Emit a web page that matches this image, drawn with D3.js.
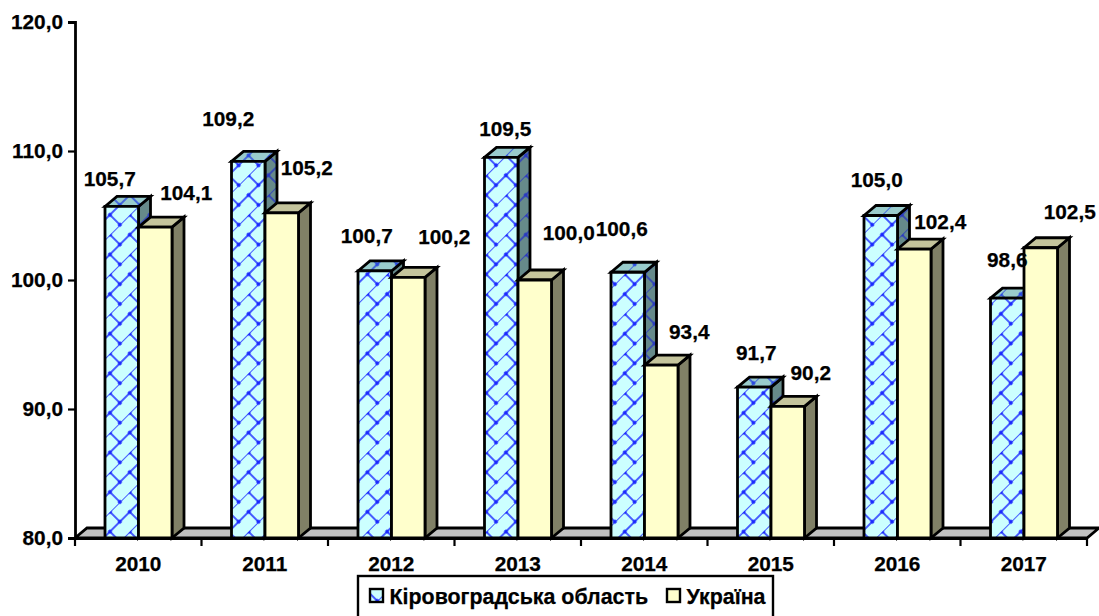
<!DOCTYPE html>
<html><head><meta charset="utf-8">
<script src="https://cdn.jsdelivr.net/npm/d3@7/dist/d3.min.js"></script>
<style>
html,body{margin:0;padding:0;background:#fff;overflow:hidden}
text{font-family:"Liberation Sans",Arial,sans-serif;font-weight:bold;fill:#000;stroke:#000;stroke-width:.25px}
</style></head><body>
<svg id="c" width="1099" height="616"></svg>
<script>
const years=["2010","2011","2012","2013","2014","2015","2016","2017"];
const seriesNames=["Кіровоградська область","Україна"];
const kirovohrad=[105.7,109.2,100.7,109.5,100.6,91.7,105.0,98.6];
const ukraine=[104.1,105.2,100.2,100.0,93.4,90.2,102.4,102.5];
const yTicks=[80,90,100,110,120];
// hand-placed data label offsets from each bar's top centre, as in the reference
const kirovohradLabelOffset=[[-12,-20],[-20,-35],[-8,-28],[4,-21],[-6,-36],[2,-27],[-4,-29],[0,-31]];
const ukraineLabelOffset=[[31,-27],[25,-38],[36,-33],[34,-40],[28,-26],[23,-26],[26,-20],[29,-29]];

const svg=d3.select("#c");
const fmt=v=>v.toFixed(1).replace(".",",");
const FS=20.8;
const pLeft=75,pRight=1087,pTop=22,pBottom=538,dx=12,dy=10;
const x0=d3.scaleBand().domain(years).range([pLeft,pRight]);
const x1=d3.scaleBand().domain([0,1]).range([30,97]);
const y=d3.scaleLinear().domain([80,120]).range([pBottom,pTop]);

const defs=svg.append("defs");
function hatch(id,bg,line){
  const p=defs.append("pattern").attr("id",id).attr("patternUnits","userSpaceOnUse")
    .attr("width",28).attr("height",28).attr("patternTransform","translate(105,200) rotate(-45)");
  p.append("rect").attr("width",28).attr("height",28).attr("fill",bg);
  p.append("path").attr("d","M0,0H28M0,14H28M7,0V14M21,14V28").attr("stroke",line).attr("stroke-width",1.5).attr("fill","none");
  [[7,0],[7,14],[21,14],[21,28],[21,0]].forEach(c=>p.append("circle").attr("cx",c[0]).attr("cy",c[1]).attr("r",2).attr("fill",line));
}
hatch("hF","#ccffff","#1a28ff");
hatch("hT","#99cccc","#2a4ae0");
hatch("hS","#668a8a","#2a3ac0");

const K="#000",SW=2.8;
const box=(g,pts,fill)=>g.append("polygon").attr("points",pts.map(p=>p.join(",")).join(" "))
  .attr("fill",fill).attr("stroke",K).attr("stroke-width",SW).attr("stroke-linejoin","miter");

// floor
box(svg,[[pLeft,pBottom],[pRight,pBottom],[pRight+dx,pBottom-dy],[pLeft+dx,pBottom-dy]],"#c0c0c0");

// bars
const styles=[{f:"url(#hF)",t:"url(#hT)",s:"url(#hS)"},{f:"#ffffcc",t:"#c4c49c",s:"#808066"}];
const series=[kirovohrad,ukraine];
const bars=svg.append("g");
years.forEach((yr,i)=>{
  [0,1].forEach(k=>{
    const g=bars.append("g");
    const a=x0(yr)+x1(k),b=a+x1.bandwidth(),t=y(series[k][i]);
    box(g,[[b,pBottom],[b+dx,pBottom-dy],[b+dx,t-dy],[b,t]],styles[k].s);
    box(g,[[a,t],[a+dx,t-dy],[b+dx,t-dy],[b,t]],styles[k].t);
    box(g,[[a,t],[b,t],[b,pBottom],[a,pBottom]],styles[k].f);
  });
});

// axes
const yAxis=svg.append("g").attr("transform",`translate(${pLeft},0)`)
  .call(d3.axisLeft(y).tickValues(yTicks).tickFormat(fmt).tickSize(7).tickPadding(5));
const xAxis=svg.append("g").attr("transform",`translate(0,${pBottom})`)
  .call(d3.axisBottom(x0).tickSize(0).tickPadding(18));
[yAxis,xAxis].forEach(a=>{
  a.selectAll("path").attr("stroke",K).attr("stroke-width",2.8);
  a.selectAll("line").attr("stroke",K).attr("stroke-width",2.2);
  a.selectAll("text").attr("font-size",FS).attr("font-family",'"Liberation Sans"').attr("font-weight","bold");
});
svg.append("g").selectAll("line").data(x0.domain().concat(["end"])).join("line")
  .attr("x1",d=>d==="end"?pRight:x0(d)).attr("x2",d=>d==="end"?pRight:x0(d))
  .attr("y1",pBottom).attr("y2",pBottom+8).attr("stroke",K).attr("stroke-width",2.2);

// data labels
const offsets=[kirovohradLabelOffset,ukraineLabelOffset];
years.forEach((yr,i)=>{
  [0,1].forEach(k=>{
    const [ox,oy]=offsets[k][i];
    svg.append("text").attr("x",x0(yr)+x1(k)+x1.bandwidth()/2+ox).attr("y",y(series[k][i])+oy)
      .attr("text-anchor","middle").attr("font-size",FS).text(fmt(series[k][i]));
  });
});

// legend
const lg=svg.append("g");
lg.append("rect").attr("x",358).attr("y",576).attr("width",415).attr("height",44).attr("fill","#fff").attr("stroke",K).attr("stroke-width",2.4);
const lx=[370,667],sc=[styles[0].f,styles[1].f];
seriesNames.forEach((n,k)=>{
  lg.append("rect").attr("x",lx[k]).attr("y",589).attr("width",13).attr("height",13).attr("fill",sc[k]).attr("stroke",K).attr("stroke-width",2.4);
  lg.append("text").attr("x",lx[k]+19.5).attr("y",604).attr("font-size",21.4).text(n);
});
</script></body></html>
